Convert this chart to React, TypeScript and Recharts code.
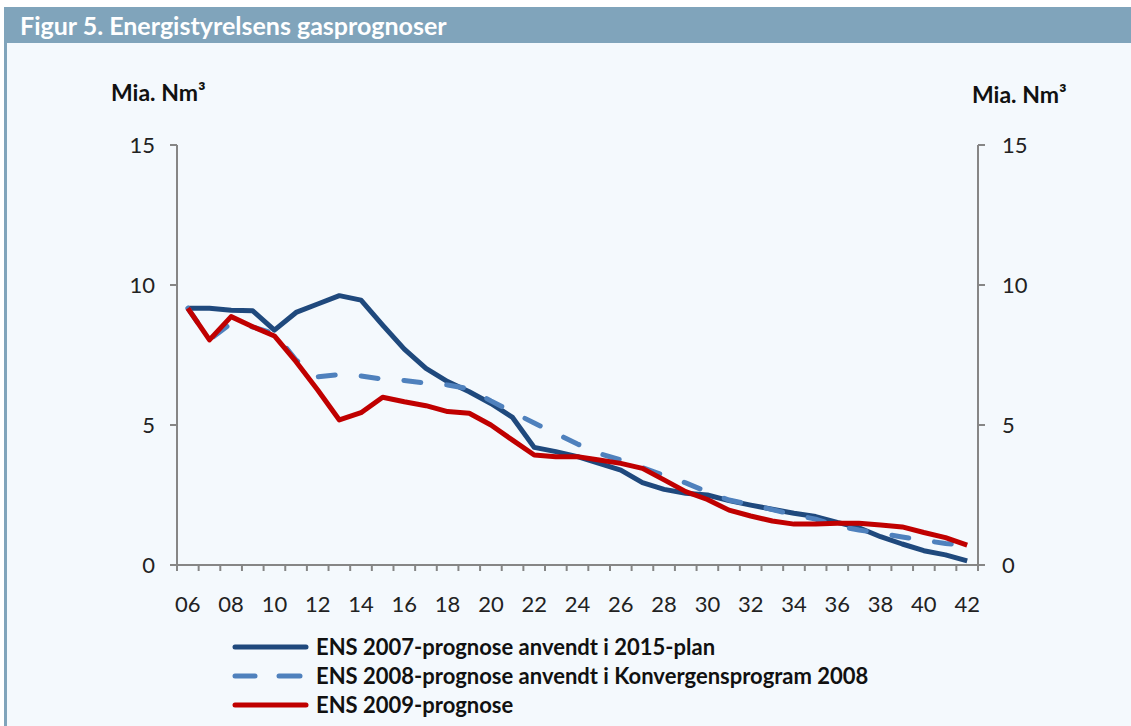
import { LineChart, Line, XAxis, YAxis } from "recharts";

const years = [
  "06", "07", "08", "09", "10", "11", "12", "13", "14", "15", "16", "17", "18",
  "19", "20", "21", "22", "23", "24", "25", "26", "27", "28", "29", "30", "31",
  "32", "33", "34", "35", "36", "37", "38", "39", "40", "41", "42",
];

// Mia. Nm3 per year
const ens2007 = [
  9.17, 9.17, 9.1, 9.08, 8.39, 9.02, 9.32, 9.62, 9.46, 8.57, 7.71, 7.02, 6.55,
  6.19, 5.77, 5.27, 4.2, 4.05, 3.87, 3.63, 3.39, 2.94, 2.7, 2.56, 2.5, 2.3,
  2.14, 1.99, 1.85, 1.73, 1.52, 1.33, 1.01, 0.75, 0.51, 0.36, 0.15,
];
const ens2008 = [
  9.17, 8.05, 8.63, 8.5, 8.27, 7.32, 6.72, 6.8, 6.75, 6.64, 6.59, 6.5, 6.43,
  6.29, 5.86, 5.46, 5.07, 4.7, 4.32, 3.98, 3.75, 3.48, 3.2, 2.93, 2.61, 2.32,
  2.16, 1.98, 1.79, 1.64, 1.39, 1.25, 1.13, 1.0, 0.88, 0.77, 0.7,
];
const ens2009 = [
  9.17, 8.04, 8.87, 8.51, 8.18, 7.26, 6.25, 5.18, 5.44, 5.99, 5.83, 5.69, 5.48,
  5.42, 5.0, 4.46, 3.93, 3.87, 3.87, 3.75, 3.63, 3.45, 3.04, 2.62, 2.34, 1.96,
  1.75, 1.57, 1.46, 1.46, 1.49, 1.49, 1.43, 1.36, 1.16, 0.98, 0.71,
];

const yTicks = [0, 5, 10, 15];

const seriesNames = [
  "ENS 2007-prognose anvendt i 2015-plan",
  "ENS 2008-prognose anvendt i Konvergensprogram 2008",
  "ENS 2009-prognose",
];

const data = years.map((y, i) => ({
  year: y,
  a: ens2007[i],
  b: ens2008[i],
  c: ens2009[i],
}));

const AXIS = "#868686";
const FONT = "Lato, 'Open Sans', sans-serif";
const tickStyle = { fill: "#222", fontSize: 22, fontFamily: FONT, fontWeight: 400 };

// ticks between categories, label on every other year
const YearTick = (props: any) => {
  const { x, y, payload, index } = props;
  const off = payload.offset || 0;
  const top = y - 6;
  return (
    <g>
      <line x1={x - off} x2={x - off} y1={top} y2={top + 6} stroke={AXIS} strokeWidth={2} />
      {index === years.length - 1 && (
        <line x1={x + off} x2={x + off} y1={top} y2={top + 6} stroke={AXIS} strokeWidth={2} />
      )}
      {index % 2 === 0 && (
        <text x={x} y={top + 47} textAnchor="middle" {...tickStyle}>
          {payload.value}
        </text>
      )}
    </g>
  );
};

export default function App() {
  return (
    <div style={{ position: "absolute", left: 0, top: 0, width: 1131, height: 726, background: "#fff", fontFamily: FONT }}>
      <div style={{ position: "absolute", left: 4, top: 7, right: 0, bottom: 0, background: "#f4f9fd", borderLeft: "3px solid #80a4bb" }} />
      <div
        style={{
          position: "absolute", left: 4, top: 7, width: 1127, height: 36, background: "#80a4bb",
          color: "#fff", fontWeight: 700, fontSize: 25, lineHeight: "36px", paddingLeft: 16, boxSizing: "border-box",
        }}
      >
        Figur 5. Energistyrelsens gasprognoser
      </div>
      <div style={{ position: "absolute", left: 111, top: 78, fontWeight: 700, fontSize: 23, color: "#111" }}>
        Mia. Nm³
      </div>
      <div style={{ position: "absolute", left: 972, top: 80, fontWeight: 700, fontSize: 23, color: "#111" }}>
        Mia. Nm³
      </div>

      <div style={{ position: "absolute", left: 0, top: 0 }}>
        <LineChart width={1131} height={726} data={data} margin={{ top: 145, right: 93, bottom: 121, left: 117 }}>
          <XAxis
            dataKey="year"
            scale="band"
            interval={0}
            tickLine={false}
            tickSize={6}
            tickMargin={0}
            height={40}
            axisLine={{ stroke: AXIS, strokeWidth: 2 }}
            tick={<YearTick />}
          />
          <YAxis
            yAxisId="left"
            domain={[0, 15]}
            ticks={yTicks}
            width={60}
            tickSize={7}
            tickMargin={15}
            axisLine={{ stroke: AXIS, strokeWidth: 2 }}
            tickLine={{ stroke: AXIS, strokeWidth: 2 }}
            tick={tickStyle}
          />
          <YAxis
            yAxisId="right"
            orientation="right"
            domain={[0, 15]}
            ticks={yTicks}
            width={60}
            tickSize={7}
            tickMargin={17}
            axisLine={{ stroke: AXIS, strokeWidth: 2 }}
            tickLine={{ stroke: AXIS, strokeWidth: 2 }}
            tick={tickStyle}
          />
          <Line yAxisId="left" dataKey="a" stroke="#1f497d" strokeWidth={5} dot={false} isAnimationActive={false} strokeLinejoin="round" />
          <Line yAxisId="left" dataKey="b" stroke="#4f81bd" strokeWidth={5} dot={false} isAnimationActive={false} strokeDasharray="17 26" strokeLinecap="round" />
          <Line yAxisId="left" dataKey="c" stroke="#c00000" strokeWidth={5} dot={false} isAnimationActive={false} strokeLinejoin="round" />
          {/* invisible twin so the right axis gets its ticks */}
          <Line yAxisId="right" dataKey="a" stroke="none" strokeOpacity={0} dot={false} activeDot={false} isAnimationActive={false} legendType="none" />
        </LineChart>
      </div>

      <svg style={{ position: "absolute", left: 0, top: 630 }} width={900} height={96}>
        {seriesNames.map((name, i) => {
          const y = 17 + i * 29;
          return (
            <g key={name}>
              {i === 1 ? (
                <g>
                  <line x1={235} x2={255} y1={y} y2={y} stroke="#4f81bd" strokeWidth={5} strokeLinecap="round" />
                  <line x1={279} x2={300} y1={y} y2={y} stroke="#4f81bd" strokeWidth={5} strokeLinecap="round" />
                </g>
              ) : (
                <line x1={235} x2={306} y1={y} y2={y} stroke={i === 0 ? "#1f497d" : "#c00000"} strokeWidth={5} strokeLinecap="round" />
              )}
              <text x={316} y={y + 8} fontSize={22} fontWeight={700} fill="#111" fontFamily={FONT}>
                {name}
              </text>
            </g>
          );
        })}
      </svg>
    </div>
  );
}
